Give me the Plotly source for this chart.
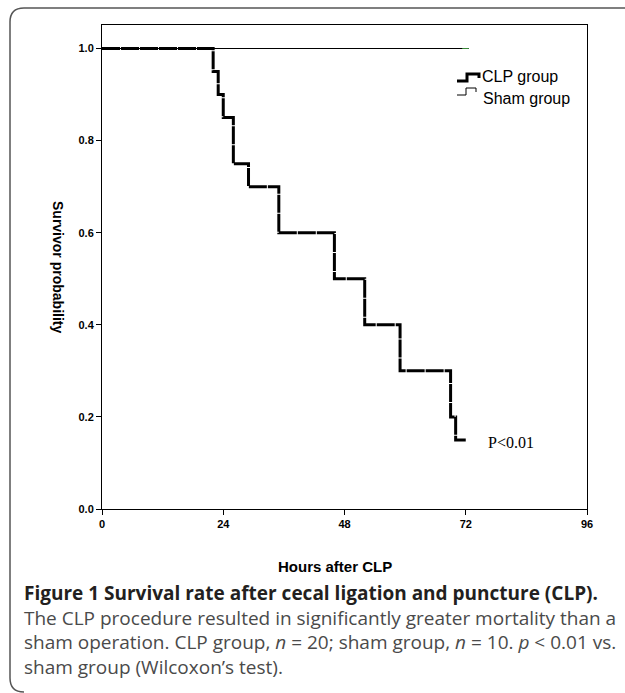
import plotly.graph_objects as go

# ---- data ----
clp_time = [0, 22, 23, 24, 26, 29, 35, 46, 52, 59, 69, 70, 72]
clp_surv = [1.0, 0.95, 0.90, 0.85, 0.75, 0.70, 0.60, 0.50, 0.40, 0.30, 0.20, 0.15, 0.15]
sham_time = [0, 72.6]
sham_surv = [1.0, 1.0]
sham_censor_time = [71.3, 72.6]
sham_censor_surv = [1.0, 1.0]
x_ticks = [0, 24, 48, 72, 96]
y_ticks = [0.0, 0.2, 0.4, 0.6, 0.8, 1.0]
y_ticklabels = ["0.0", "0.2", "0.4", "0.6", "0.8", "1.0"]

W, H = 625, 693
L, R, T, B = 102, 38, 25, 184
PW, PH = W - L - R, H - T - B


def px(xp):
    return (xp - L) / PW


def py(yp):
    return (H - B - yp) / PH


fig = go.Figure()
fig.add_trace(go.Scatter(x=sham_time, y=sham_surv, mode="lines", line_shape="hv",
                         line=dict(color="black", width=1), name="Sham group",
                         showlegend=False, hoverinfo="skip"))
fig.add_trace(go.Scatter(x=sham_censor_time, y=sham_censor_surv, mode="lines",
                         line=dict(color="#3a8a3a", width=1), showlegend=False,
                         hoverinfo="skip"))
fig.add_trace(go.Scatter(x=clp_time, y=clp_surv, mode="lines", line_shape="hv",
                         line=dict(color="black", width=3, dash="18px,1px"),
                         name="CLP group", showlegend=False, hoverinfo="skip"))

tickfont = dict(family="Liberation Sans, Arial", size=11, color="black")
fig.update_xaxes(range=[0, 96], tickvals=x_ticks, ticktext=[f"<b>{v}</b>" for v in x_ticks],
                 ticks="outside", ticklen=5, tickwidth=1, tickcolor="black",
                 showline=True, linecolor="black", linewidth=1, mirror=True,
                 showgrid=False, zeroline=False, tickfont=tickfont)
fig.update_yaxes(range=[0, PH / 460.5], tickvals=y_ticks,
                 ticktext=[f"<b>{t}</b>" for t in y_ticklabels],
                 ticks="outside", ticklen=5, tickwidth=1, tickcolor="black",
                 showline=True, linecolor="black", linewidth=1, mirror=True,
                 showgrid=False, zeroline=False, tickfont=tickfont)

# outer rounded border
path = (f"M {px(625)},{py(8)} L {px(24)},{py(8)} Q {px(10)},{py(8)} {px(10)},{py(22)} "
        f"L {px(10)},{py(678)} Q {px(10)},{py(692)} {px(24)},{py(692)}")
fig.add_shape(type="path", xref="paper", yref="paper", path=path,
              line=dict(color="#555555", width=1.5))

# legend icons
clp_icon = (f"M {px(457)},{py(81)} L {px(467)},{py(81)} L {px(467)},{py(74)} "
            f"L {px(479)},{py(74)} L {px(479)},{py(78)}")
sham_icon = (f"M {px(457)},{py(95)} L {px(466)},{py(95)} L {px(466)},{py(88)} "
             f"L {px(476)},{py(88)} L {px(476)},{py(92)}")
fig.add_shape(type="path", xref="paper", yref="paper", path=clp_icon,
              line=dict(color="black", width=3))
fig.add_shape(type="path", xref="paper", yref="paper", path=sham_icon,
              line=dict(color="black", width=1))

ann = []
legfont = dict(family="Liberation Sans, Arial", size=16, color="black")
ann.append(dict(text="CLP group", x=px(480), y=py(76), xanchor="left", yanchor="middle",
                font=legfont))
ann.append(dict(text="Sham group", x=px(481), y=py(98), xanchor="left", yanchor="middle",
                font=legfont))
ann.append(dict(text="P<0.01", x=px(486), y=py(442), xanchor="left", yanchor="middle",
                font=dict(family="Liberation Serif, Times New Roman", size=16, color="black")))
ann.append(dict(text="<b>Survivor probability</b>", x=px(58), y=py(267), textangle=90,
                xanchor="center", yanchor="middle",
                font=dict(family="Liberation Sans, Arial", size=14, color="black")))
ann.append(dict(text="<b>Hours after CLP</b>", x=px(335), y=py(566),
                xanchor="center", yanchor="middle",
                font=dict(family="Liberation Sans, Arial", size=15, color="black")))

capfont = dict(family="Open Sans", size=19, color="#4a4a4a")
cap_lines = [
    "<b><span style='color:#231f20'>Figure 1 Survival rate after cecal ligation and puncture (CLP).</span></b>",
    "The CLP procedure resulted in significantly greater mortality than a",
    "sham operation. CLP group, <i>n</i> = 20; sham group, <i>n</i> = 10. <i>p</i> &lt; 0.01 vs.",
    "sham group (Wilcoxon\u2019s test).",
]
ann.append(dict(text="<br>".join(cap_lines), x=px(22), y=py(630), xanchor="left",
                yanchor="middle", align="left", font=capfont))

for a in ann:
    a.update(xref="paper", yref="paper", showarrow=False)

fig.update_layout(width=W, height=H, margin=dict(l=L, r=R, t=T, b=B, pad=0),
                  paper_bgcolor="white", plot_bgcolor="white", annotations=ann,
                  showlegend=False)

fig.write_html("out.html")
